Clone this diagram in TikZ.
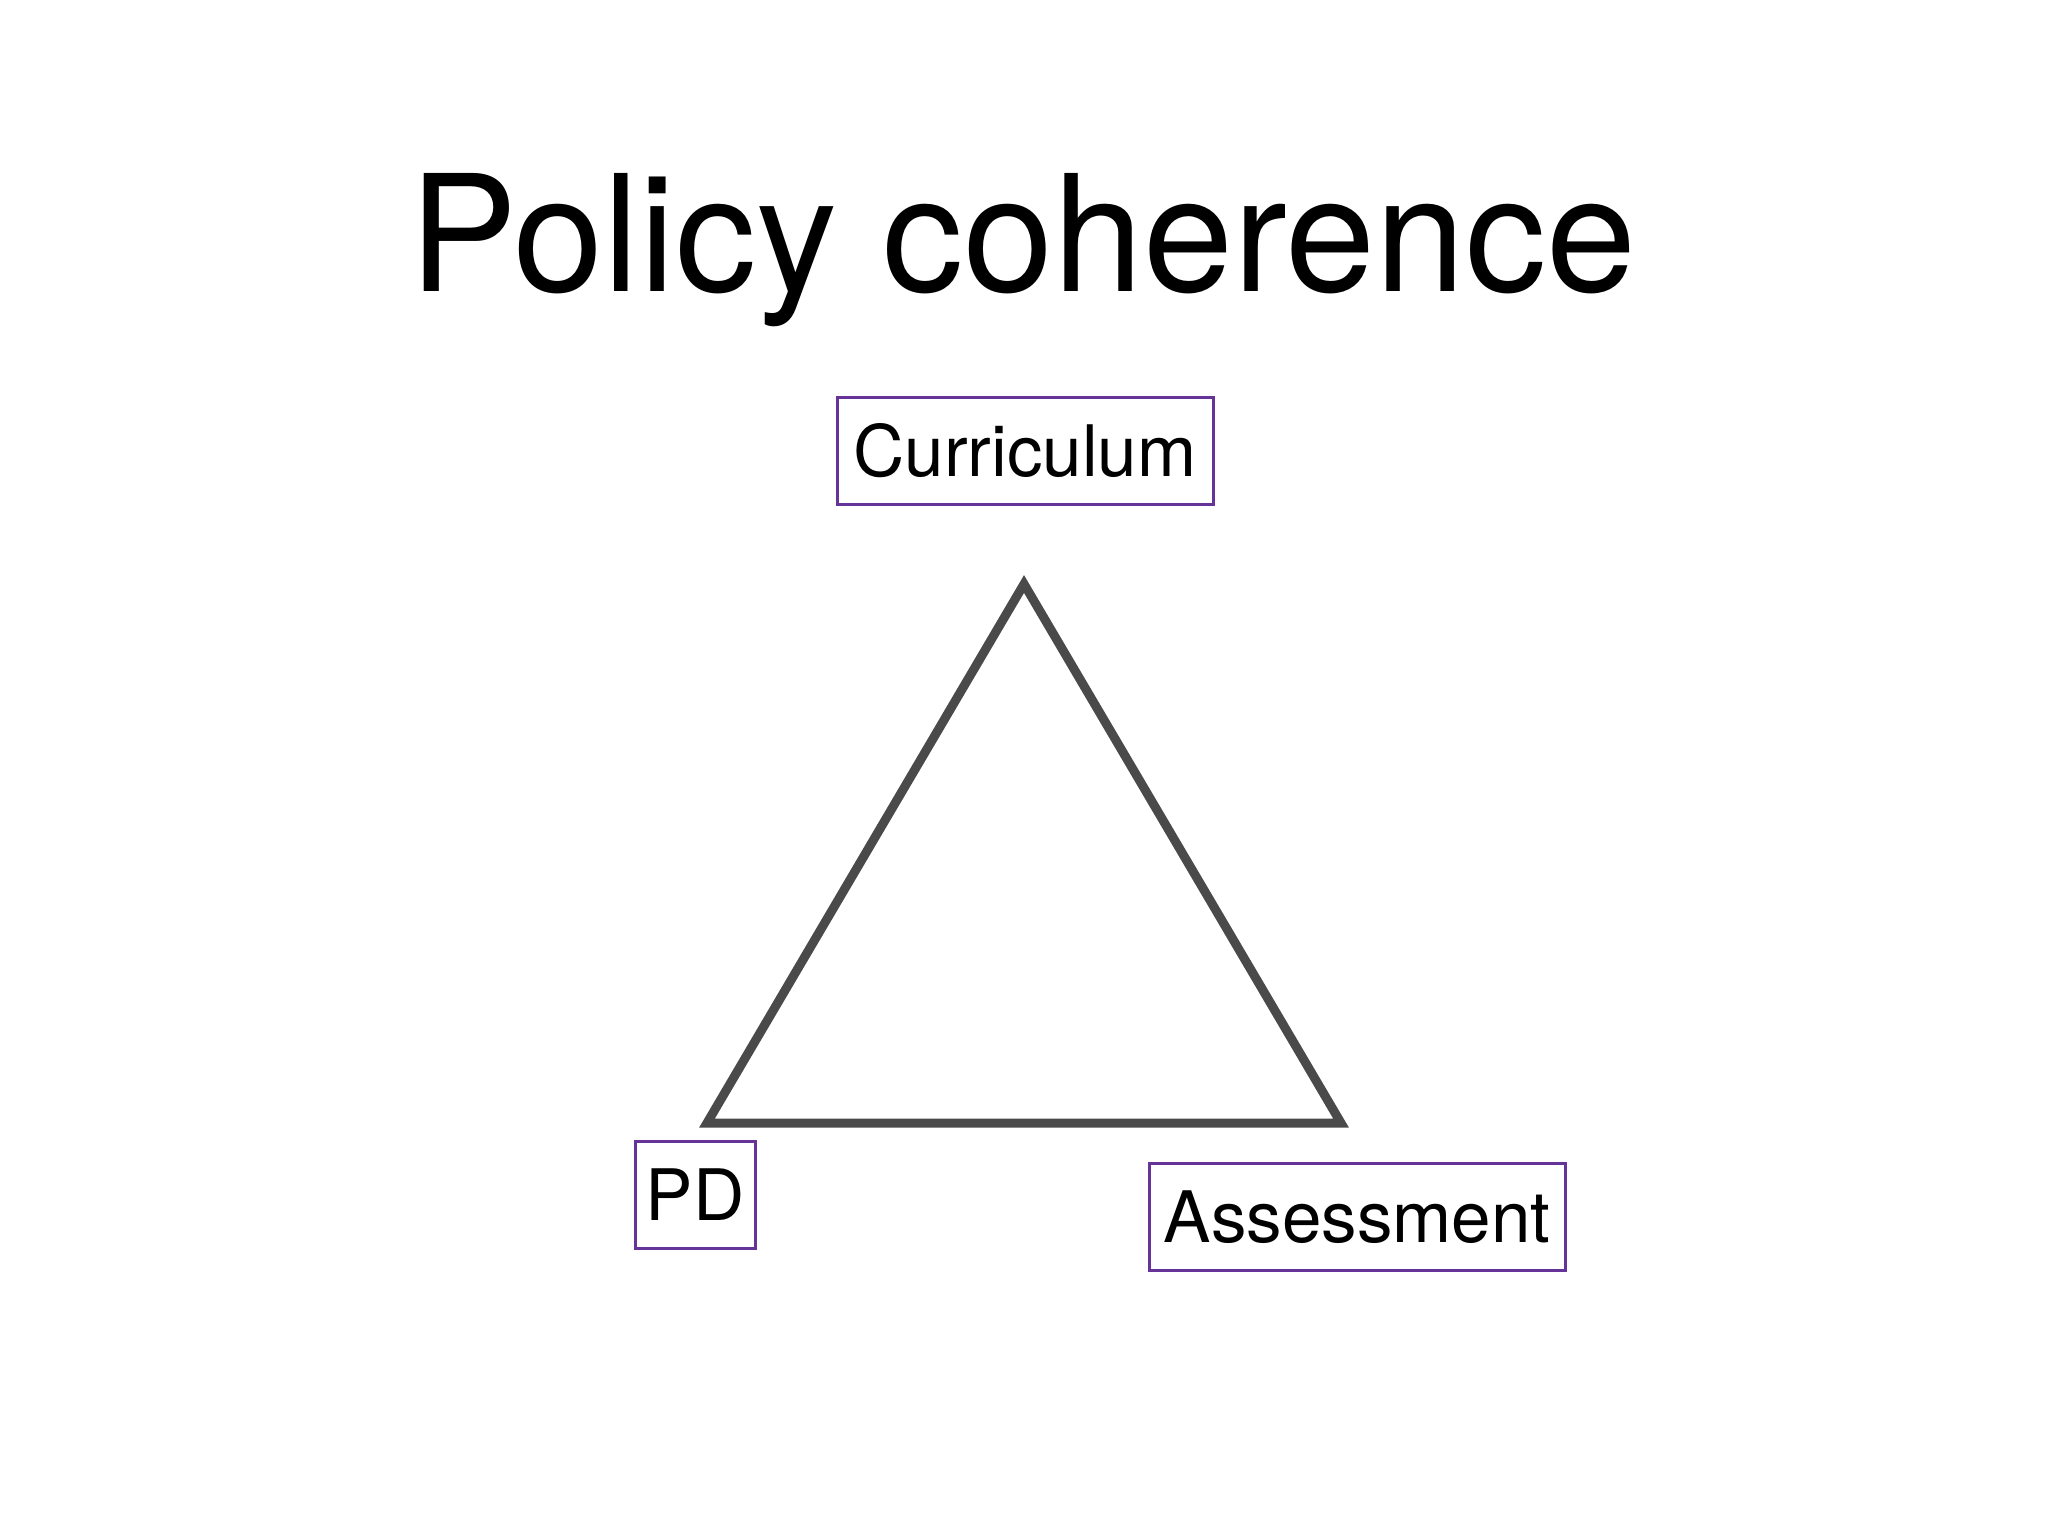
\documentclass[tikz,border=0pt]{standalone}
\usepackage{fontspec}
\setmainfont{TeX Gyre Heros}
\definecolor{boxpurple}{HTML}{663399}
\definecolor{pencil}{HTML}{4A4A4A}
\tikzset{
  labelbox/.style={draw=boxpurple, line width=3pt, fill=white, inner sep=0pt,
    minimum height=107pt, text height=51pt, text depth=0pt,
    font=\fontsize{71}{80}\selectfont},
  pencilline/.style={draw=pencil, line width=9pt, line join=miter},
}
\begin{document}
\begin{tikzpicture}[x=1pt,y=-1pt]
\useasboundingbox (0,0) rectangle (2048,1536);
\fill[white] (0,0) rectangle (2048,1536);
\node[anchor=base, inner sep=0pt, font=\fontsize{162}{190}\selectfont] (title) at (1023,291) {Policy coherence};
\coordinate (top) at (1024,584);
\coordinate (bl) at (707,1123);
\coordinate (br) at (1341,1123);
\draw[pencilline] (top) -- (br) -- (bl) -- cycle;
\node[labelbox, minimum width=376pt] (curr) at (1025,450.5) {Curriculum};
\node[labelbox, minimum width=120pt] (pd) at (695,1195) {PD};
\node[labelbox, minimum width=416pt] (assess) at (1357,1216.5) {Assessment};
\end{tikzpicture}
\end{document}
